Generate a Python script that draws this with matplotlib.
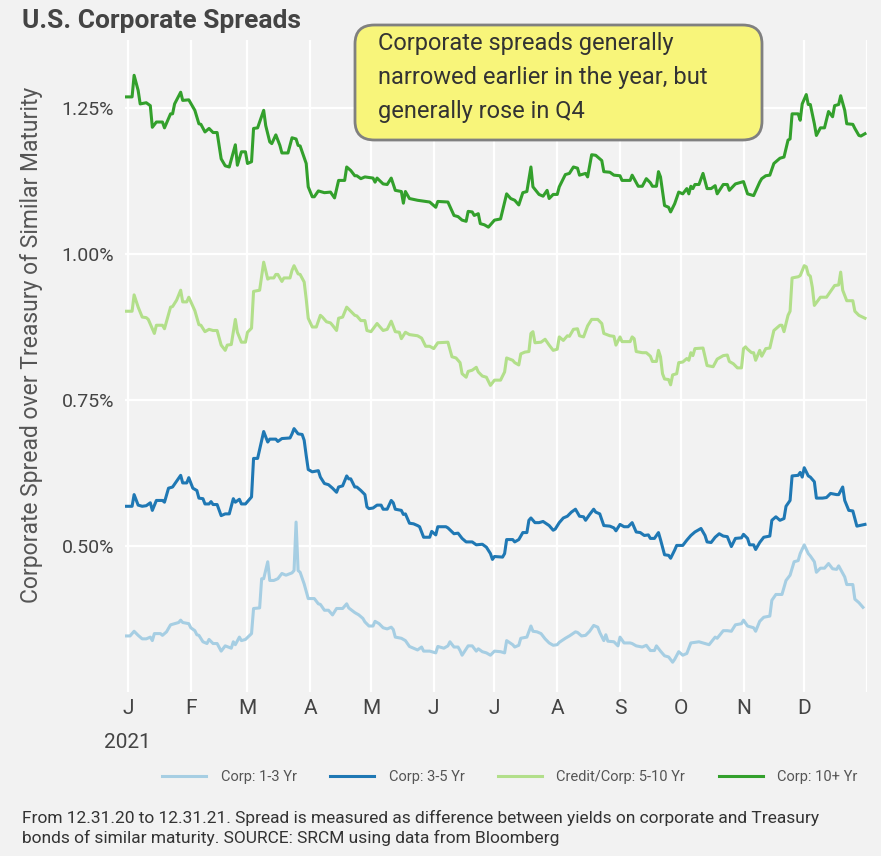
import numpy as np
import pandas as pd
import matplotlib
matplotlib.use("Agg")
import matplotlib.pyplot as plt
from matplotlib.lines import Line2D
from matplotlib.patches import FancyBboxPatch

plt.rcParams['font.family'] = ['Roboto', 'DejaVu Sans']

# (day of 2021, spread %), day 0 = Jan 1
corp_1_3 = np.array([
    (-1, .346), (1, .346), (3, .354), (5, .347), (7, .341), (9, .341), (11, .344), (12, .338), (13, .350),
    (16, .350), (17, .347), (19, .353), (21, .365), (23, .367), (25, .369), (26, .373), (27, .369), (30, .367),
    (31, .360), (33, .355), (34, .348), (35, .347), (37, .336), (39, .333), (40, .340), (42, .333), (44, .333),
    (46, .320), (48, .329), (51, .325), (52, .336), (53, .331), (55, .344), (56, .338), (58, .340), (61, .350),
    (62, .393), (65, .394), (66, .444), (67, .444), (69, .473), (70, .441), (72, .441), (74, .444), (76, .453),
    (78, .450), (81, .454), (82, .458), (83, .541), (84, .458), (85, .455), (87, .435), (89, .410), (92, .410),
    (94, .401), (95, .400), (97, .390), (99, .390), (101, .382), (103, .393), (106, .393), (108, .401),
    (109, .394), (112, .386), (114, .382), (116, .376), (117, .370), (119, .363), (121, .363), (122, .371),
    (124, .367), (126, .360), (128, .358), (130, .361), (131, .357), (132, .344), (135, .342), (137, .338),
    (139, .328), (141, .325), (143, .322), (145, .327), (146, .320), (149, .320), (152, .317), (153, .328),
    (156, .325), (158, .329), (159, .336), (161, .327), (163, .327), (164, .321), (165, .313), (168, .329),
    (170, .329), (172, .320), (173, .324), (175, .319), (177, .317), (179, .313), (181, .320), (184, .319),
    (186, .317), (187, .338), (190, .331), (191, .327), (193, .330), (194, .342), (197, .344), (199, .363),
    (200, .354), (202, .353), (204, .350), (206, .341), (208, .334), (210, .330), (212, .331), (213, .335),
    (216, .342), (218, .346), (221, .353), (222, .352), (224, .346), (226, .347), (228, .354), (230, .364),
    (232, .361), (233, .352), (235, .338), (236, .348), (237, .337), (240, .336), (242, .329), (243, .344),
    (245, .334), (248, .334), (249, .333), (251, .329), (254, .327), (256, .330), (258, .321), (260, .321),
    (261, .329), (263, .320), (265, .312), (267, .310), (269, .301), (270, .306), (272, .319), (274, .313),
    (276, .316), (278, .334), (282, .336), (285, .333), (287, .331), (290, .344), (291, .342), (294, .355),
    (296, .355), (298, .354), (300, .365), (303, .367), (304, .373), (306, .363), (309, .360), (310, .354),
    (312, .371), (314, .378), (317, .380), (318, .407), (320, .417), (323, .417), (325, .441), (327, .450),
    (329, .473), (331, .475), (332, .487), (334, .502), (336, .487), (337, .483), (339, .473), (340, .455),
    (342, .462), (344, .462), (346, .470), (348, .461), (350, .460), (351, .466), (354, .447), (355, .434),
    (358, .434), (359, .409), (361, .403), (363, .395),
])

corp_3_5 = np.array([
    (-1, .568), (2, .568), (3, .588), (5, .570), (7, .568), (9, .569), (11, .574), (12, .561), (14, .578),
    (17, .578), (18, .575), (20, .599), (22, .601), (24, .611), (26, .621), (27, .608), (29, .608), (30, .617),
    (32, .599), (34, .595), (35, .582), (37, .581), (38, .572), (40, .572), (41, .576), (42, .571), (44, .571),
    (46, .552), (48, .555), (50, .555), (52, .581), (53, .575), (55, .580), (56, .572), (58, .572), (61, .584),
    (62, .650), (64, .650), (67, .696), (69, .678), (70, .683), (73, .683), (74, .679), (76, .684), (80, .685),
    (81, .692), (82, .701), (84, .692), (86, .691), (87, .681), (88, .655), (89, .631), (91, .627), (94, .629),
    (95, .618), (97, .607), (99, .605), (101, .599), (103, .592), (104, .601), (106, .603), (108, .620),
    (109, .615), (110, .615), (112, .601), (113, .601), (115, .595), (117, .588), (118, .567), (119, .564),
    (121, .565), (123, .570), (125, .570), (126, .563), (128, .563), (130, .578), (131, .574), (132, .563),
    (135, .561), (136, .554), (137, .555), (139, .539), (141, .538), (143, .535), (144, .533), (146, .515),
    (149, .515), (150, .525), (152, .519), (153, .533), (157, .533), (158, .531), (161, .521), (163, .522),
    (165, .513), (167, .507), (170, .507), (172, .502), (175, .503), (177, .498), (179, .487), (180, .477),
    (181, .482), (185, .481), (186, .487), (187, .511), (190, .511), (191, .507), (193, .511), (195, .523),
    (197, .523), (198, .544), (199, .548), (201, .540), (203, .540), (205, .542), (208, .535), (210, .527),
    (211, .529), (213, .540), (215, .548), (217, .551), (219, .558), (221, .563), (223, .551), (225, .550),
    (226, .544), (228, .554), (230, .563), (231, .558), (233, .555), (235, .535), (238, .534), (240, .531),
    (241, .526), (243, .537), (245, .533), (247, .533), (249, .540), (251, .524), (253, .523), (255, .518),
    (257, .519), (258, .513), (260, .513), (262, .523), (263, .511), (265, .485), (267, .484), (268, .479),
    (270, .493), (271, .501), (274, .501), (276, .510), (278, .518), (280, .524), (283, .530), (285, .518),
    (286, .507), (288, .506), (290, .515), (292, .521), (294, .517), (296, .516), (298, .499), (300, .513),
    (303, .514), (304, .520), (306, .513), (307, .502), (309, .502), (310, .494), (312, .506), (314, .515),
    (317, .517), (318, .544), (320, .550), (322, .544), (324, .547), (325, .568), (327, .578), (328, .620),
    (331, .621), (332, .626), (333, .618), (334, .634), (336, .620), (337, .618), (339, .610), (340, .582),
    (343, .582), (345, .583), (347, .590), (350, .588), (351, .588), (353, .601), (354, .578), (356, .561),
    (358, .560), (360, .534), (364, .537),
])

corp_5_10 = np.array([
    (-1, .902), (2, .902), (3, .930), (5, .909), (7, .892), (9, .891), (10, .888), (12, .872), (13, .864),
    (14, .878), (17, .878), (18, .872), (21, .909), (22, .910), (24, .921), (26, .938), (27, .918), (29, .918),
    (30, .926), (33, .903), (35, .879), (36, .878), (38, .867), (40, .871), (42, .869), (44, .869), (46, .844),
    (48, .835), (49, .844), (51, .845), (53, .888), (54, .866), (56, .849), (58, .849), (59, .866), (61, .873),
    (62, .936), (65, .938), (67, .986), (69, .957), (70, .959), (72, .959), (73, .965), (74, .965), (76, .953),
    (77, .959), (80, .959), (81, .972), (82, .980), (84, .966), (85, .965), (87, .952), (88, .923), (89, .890),
    (91, .875), (93, .875), (95, .895), (96, .892), (98, .884), (100, .882), (101, .878), (103, .869),
    (104, .890), (106, .892), (108, .909), (110, .902), (112, .895), (113, .894), (115, .886), (117, .886),
    (118, .869), (120, .867), (123, .881), (126, .869), (128, .871), (130, .885), (132, .867), (134, .866),
    (135, .855), (137, .866), (139, .862), (141, .861), (143, .860), (145, .856), (147, .842), (149, .842),
    (151, .838), (153, .848), (158, .849), (160, .824), (162, .822), (164, .814), (165, .795), (167, .789),
    (168, .799), (170, .801), (172, .806), (173, .798), (175, .791), (177, .789), (179, .775), (181, .784),
    (184, .784), (186, .798), (187, .822), (190, .818), (191, .814), (193, .810), (194, .829), (196, .832),
    (198, .833), (199, .864), (200, .867), (201, .848), (204, .849), (206, .854), (208, .844), (210, .835),
    (212, .837), (213, .858), (215, .852), (217, .860), (218, .859), (220, .871), (222, .872), (223, .860),
    (225, .858), (227, .877), (229, .888), (232, .888), (234, .881), (235, .864), (238, .860), (240, .859),
    (241, .844), (243, .858), (244, .850), (248, .850), (249, .858), (250, .855), (251, .833), (254, .831),
    (256, .831), (258, .825), (259, .816), (261, .816), (262, .835), (263, .824), (264, .795), (265, .786),
    (267, .785), (268, .776), (269, .793), (271, .795), (272, .814), (274, .815), (276, .821), (277, .818),
    (278, .831), (279, .826), (280, .838), (284, .839), (286, .809), (289, .807), (291, .820), (294, .826),
    (296, .827), (297, .816), (299, .812), (301, .805), (303, .805), (304, .838), (305, .841), (306, .837),
    (308, .831), (309, .831), (310, .818), (312, .835), (313, .825), (315, .838), (317, .839), (319, .869),
    (322, .878), (323, .878), (324, .867), (326, .895), (327, .902), (328, .959), (331, .961), (332, .963),
    (334, .980), (335, .978), (336, .965), (337, .962), (338, .943), (339, .912), (342, .926), (345, .926),
    (347, .936), (349, .946), (351, .947), (352, .969), (353, .938), (355, .920), (358, .920), (359, .902),
    (361, .895), (364, .890),
])

corp_10_plus = np.array([
    (-1, 1.269), (2, 1.269), (3, 1.306), (5, 1.280), (6, 1.257), (9, 1.259), (11, 1.254), (12, 1.217),
    (14, 1.226), (17, 1.226), (18, 1.216), (21, 1.240), (22, 1.240), (23, 1.257), (26, 1.277), (27, 1.263),
    (30, 1.264), (33, 1.246), (35, 1.223), (36, 1.222), (38, 1.209), (40, 1.215), (42, 1.208), (44, 1.208),
    (46, 1.163), (48, 1.151), (50, 1.149), (53, 1.187), (54, 1.152), (56, 1.175), (58, 1.175), (59, 1.155),
    (61, 1.158), (62, 1.215), (64, 1.216), (67, 1.246), (68, 1.220), (70, 1.192), (71, 1.189), (73, 1.204),
    (75, 1.186), (76, 1.173), (79, 1.173), (81, 1.199), (83, 1.197), (84, 1.186), (85, 1.185), (88, 1.155),
    (89, 1.115), (91, 1.098), (92, 1.098), (94, 1.108), (97, 1.105), (100, 1.106), (102, 1.096), (104, 1.126),
    (107, 1.126), (108, 1.149), (110, 1.143), (112, 1.134), (113, 1.134), (115, 1.129), (117, 1.132),
    (121, 1.130), (122, 1.123), (123, 1.130), (126, 1.120), (128, 1.119), (130, 1.130), (132, 1.109),
    (135, 1.107), (136, 1.087), (137, 1.107), (139, 1.095), (143, 1.092), (149, 1.089), (152, 1.080),
    (153, 1.090), (158, 1.089), (161, 1.066), (163, 1.064), (165, 1.058), (167, 1.056), (168, 1.073),
    (170, 1.072), (171, 1.066), (173, 1.069), (174, 1.052), (176, 1.050), (178, 1.046), (181, 1.058),
    (184, 1.060), (187, 1.103), (189, 1.095), (191, 1.092), (193, 1.084), (195, 1.105), (197, 1.107),
    (199, 1.149), (200, 1.115), (203, 1.102), (205, 1.099), (207, 1.109), (208, 1.095), (210, 1.102),
    (212, 1.102), (213, 1.115), (216, 1.136), (218, 1.138), (220, 1.149), (222, 1.147), (223, 1.135),
    (226, 1.138), (227, 1.132), (229, 1.170), (231, 1.169), (234, 1.160), (235, 1.141), (238, 1.140),
    (240, 1.135), (243, 1.134), (244, 1.126), (248, 1.126), (249, 1.135), (252, 1.116), (254, 1.116),
    (256, 1.129), (258, 1.122), (259, 1.116), (261, 1.116), (262, 1.141), (263, 1.132), (265, 1.083),
    (267, 1.080), (268, 1.072), (270, 1.086), (272, 1.106), (274, 1.103), (276, 1.112), (277, 1.103),
    (278, 1.116), (279, 1.112), (280, 1.119), (282, 1.119), (284, 1.138), (286, 1.112), (288, 1.112),
    (290, 1.117), (291, 1.103), (294, 1.119), (296, 1.119), (297, 1.109), (300, 1.120), (304, 1.124),
    (306, 1.103), (309, 1.100), (312, 1.123), (313, 1.129), (315, 1.134), (317, 1.135), (319, 1.155),
    (322, 1.164), (324, 1.166), (326, 1.195), (327, 1.197), (328, 1.240), (331, 1.240), (332, 1.229),
    (333, 1.257), (335, 1.273), (336, 1.256), (337, 1.256), (339, 1.223), (340, 1.203), (342, 1.216),
    (344, 1.216), (346, 1.244), (348, 1.235), (349, 1.254), (351, 1.256), (352, 1.271), (354, 1.246),
    (355, 1.223), (358, 1.222), (359, 1.215), (361, 1.203), (362, 1.202), (364, 1.206),
])

series_names = ["Corp: 1-3 Yr", "Corp: 3-5 Yr", "Credit/Corp: 5-10 Yr", "Corp: 10+ Yr"]
series_data = [corp_1_3, corp_3_5, corp_5_10, corp_10_plus]
series_colors = ["#a6cee3", "#1f78b4", "#b2df8a", "#33a02c"]

month_labels = ["J", "F", "M", "A", "M", "J", "J", "A", "S", "O", "N", "D", ""]
y_ticks = [0.50, 0.75, 1.00, 1.25]
y_labels = ["0.50%", "0.75%", "1.00%", "1.25%"]

title = "U.S. Corporate Spreads"
note = ("Corporate spreads generally\n"
        "narrowed earlier in the year, but\n"
        "generally rose in Q4")
footnote = ("From 12.31.20 to 12.31.21. Spread is measured as difference between yields on corporate and Treasury\n"
            "bonds of similar maturity. SOURCE: SRCM using data from Bloomberg")

start = pd.Timestamp("2021-01-01")
bg = "#f2f2f2"
W, H = 881, 856

fig = plt.figure(figsize=(W / 100, H / 100), dpi=100, facecolor=bg)
ax = fig.add_axes([125 / W, 1 - 692 / H, (867 - 125) / W, (692 - 40) / H])
ax.set_facecolor(bg)

for name, data, color in zip(series_names, series_data, series_colors):
    dates = start + pd.to_timedelta(data[:, 0], unit="D")
    ax.plot(dates, data[:, 1], color=color, lw=2.2, label=name, solid_joinstyle="round")

ax.set_ylim(0.25, 0.25 + (692 - 40) / 584)
ax.set_xlim(start - pd.Timedelta(days=1.5), start + pd.Timedelta(days=365))

month_starts = pd.date_range("2021-01-01", periods=13, freq="MS")
ax.set_xticks(month_starts)
ax.set_xticklabels(month_labels, fontsize=15, color="#444")
ax.set_yticks(y_ticks)
ax.set_yticklabels(y_labels, fontsize=14, color="#444")
ax.tick_params(length=0)
ax.tick_params(axis="y", pad=8)
ax.tick_params(axis="x", pad=5)
ax.grid(True, color="white", lw=1.6)
ax.set_axisbelow(True)
for s in ax.spines.values():
    s.set_visible(False)

fig.text(127 / W, 1 - 742 / H, "2021", ha="center", va="center", fontsize=15, color="#444")
fig.text(32 / W, 1 - 345 / H, "Corporate Spread over Treasury of Similar Maturity",
         rotation=90, ha="center", va="center", fontsize=16.5, color="#555")

fig.text(22 / W, 1 - 21 / H, title, ha="left", va="center", fontsize=19, fontweight="bold", color="#444")

box = FancyBboxPatch((355 / W, 1 - 140 / H), (762 - 355) / W, (140 - 25) / H,
                     boxstyle="round,pad=0,rounding_size=0.022", transform=fig.transFigure,
                     facecolor="#f8f57a", edgecolor="#808080", lw=2, zorder=5)
fig.patches.append(box)
fig.text(378 / W, 1 - 32 / H, note, ha="left", va="top", fontsize=17, color="#333",
         linespacing=1.6, zorder=6)

handles = [Line2D([], [], color=c, lw=2.2) for c in series_colors]
fig.legend(handles, series_names, loc="center", bbox_to_anchor=(510 / W, 1 - 777 / H), ncol=4,
           frameon=False, fontsize=10.5, labelcolor="#555", handlelength=3.0, columnspacing=2.3,
           handletextpad=1.0)

fig.text(22 / W, 1 - 810 / H, footnote, ha="left", va="top", fontsize=12.5, color="#333", linespacing=1.3)

fig.savefig("out.png", dpi=100, facecolor=bg)
